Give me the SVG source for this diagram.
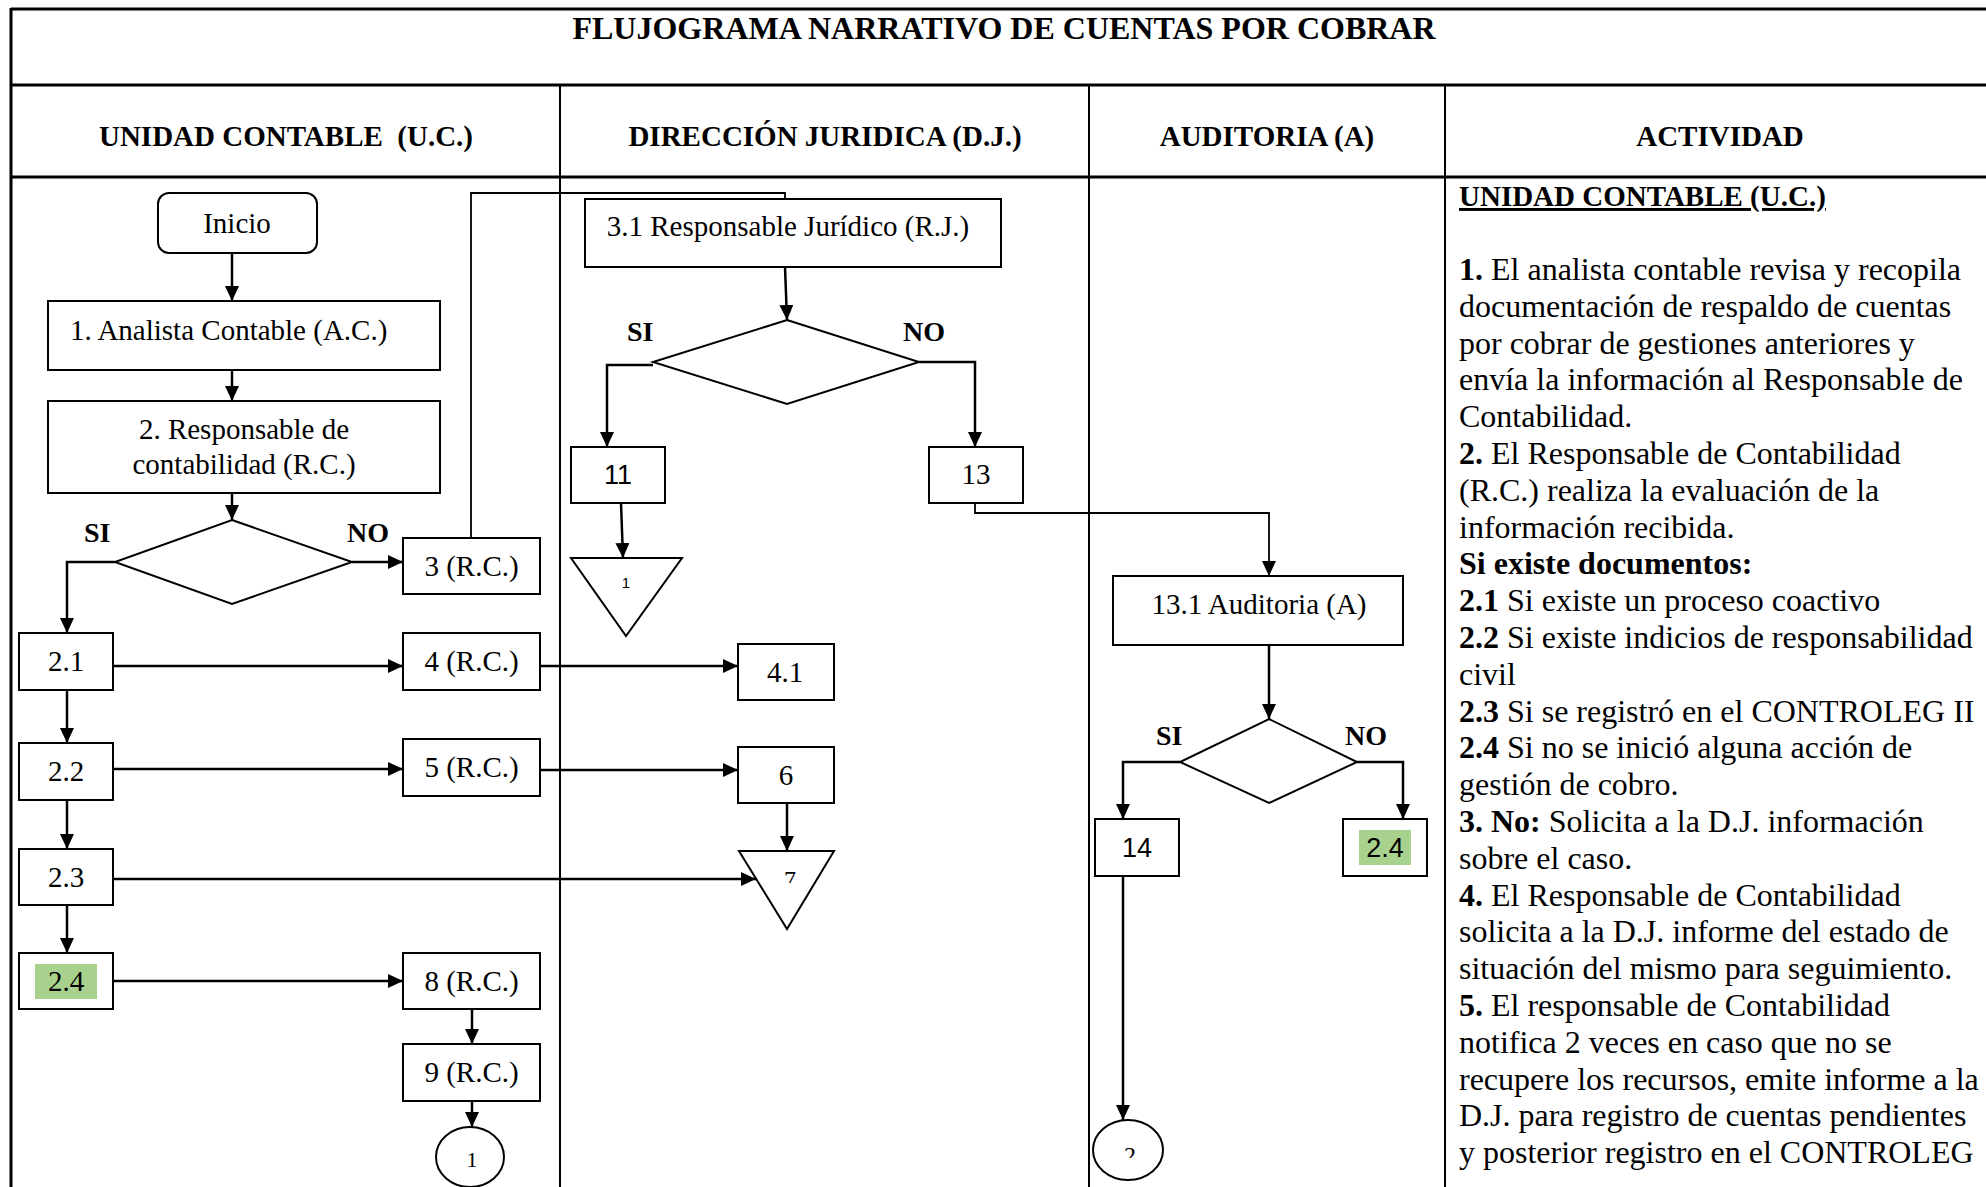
<svg xmlns="http://www.w3.org/2000/svg" width="1986" height="1187" viewBox="0 0 1986 1187">
<style>
.t{font-family:"Liberation Serif","Times New Roman",serif;fill:#000}
.s{font-family:"Liberation Sans",Arial,sans-serif;fill:#000}
.b{font-weight:bold}
.nd{fill:#fff;stroke:#000;stroke-width:2}
.grid{stroke:#000;fill:none}
.cn{fill:none;stroke:#000;stroke-width:2.5}
.th{fill:none;stroke:#000;stroke-width:1.8}
.hl{fill:#A9D18E}
</style>
<defs>
<marker id="arr" markerUnits="userSpaceOnUse" markerWidth="16" markerHeight="14" refX="15" refY="7" orient="auto">
<path d="M0,0 L15,7 L0,14 z" fill="#000"/>
</marker>
<clipPath id="clip7"><rect x="739" y="850" width="95" height="33"/></clipPath>
<clipPath id="clip2"><rect x="1093" y="1120" width="70" height="38"/></clipPath>
</defs>
<rect width="1986" height="1187" fill="#fff"/>

<g id="table">
<line class="grid" x1="11" y1="9" x2="1986" y2="9" stroke-width="3"/>
<line class="grid" x1="11" y1="85" x2="1986" y2="85" stroke-width="3"/>
<line class="grid" x1="11" y1="177" x2="1986" y2="177" stroke-width="3"/>
<line class="grid" x1="11" y1="8" x2="11" y2="1187" stroke-width="3"/>
<line class="grid" x1="560" y1="85" x2="560" y2="1187" stroke-width="2"/>
<line class="grid" x1="1089" y1="85" x2="1089" y2="1187" stroke-width="2"/>
<line class="grid" x1="1445" y1="85" x2="1445" y2="1187" stroke-width="2"/>
<text class="t b" x="1004" y="39" font-size="32" text-anchor="middle">FLUJOGRAMA NARRATIVO DE CUENTAS POR COBRAR</text>
<text class="t b" x="286" y="146" font-size="29" text-anchor="middle" xml:space="preserve">UNIDAD CONTABLE  (U.C.)</text>
<text class="t b" x="825" y="146" font-size="29" text-anchor="middle">DIRECCIÓN JURIDICA (D.J.)</text>
<text class="t b" x="1267" y="146" font-size="29" text-anchor="middle">AUDITORIA (A)</text>
<text class="t b" x="1720" y="146" font-size="29" text-anchor="middle">ACTIVIDAD</text>
</g>

<g id="connectors">
<path class="cn" d="M232,253 V301" marker-end="url(#arr)"/>
<path class="cn" d="M232,370 V401" marker-end="url(#arr)"/>
<path class="cn" d="M232,493 V520" marker-end="url(#arr)"/>
<path class="cn" d="M115,562 H67 V633" marker-end="url(#arr)"/>
<path class="cn" d="M352,562 H403" marker-end="url(#arr)"/>
<path class="th" d="M471,538 V193 H785 V199"/>
<path class="cn" d="M67,690 V743" marker-end="url(#arr)"/>
<path class="cn" d="M67,800 V849" marker-end="url(#arr)"/>
<path class="cn" d="M67,905 V953" marker-end="url(#arr)"/>
<path class="cn" d="M113,666 H403" marker-end="url(#arr)"/>
<path class="cn" d="M113,769 H403" marker-end="url(#arr)"/>
<path class="cn" d="M113,981 H403" marker-end="url(#arr)"/>
<path class="cn" d="M472,1009 V1044" marker-end="url(#arr)"/>
<path class="cn" d="M472,1101 V1127" marker-end="url(#arr)"/>
<path class="cn" d="M540,666 H738" marker-end="url(#arr)"/>
<path class="cn" d="M540,770 H738" marker-end="url(#arr)"/>
<path class="cn" d="M113,879 H756" marker-end="url(#arr)"/>
<path class="cn" d="M787,803 V851" marker-end="url(#arr)"/>
<path class="cn" d="M785,267 L787,320" marker-end="url(#arr)"/>
<path class="cn" d="M653,365 H607 V447" marker-end="url(#arr)"/>
<path class="cn" d="M919,362 H975 V447" marker-end="url(#arr)"/>
<path class="cn" d="M621,503 L623,558" marker-end="url(#arr)"/>
<path class="th" d="M975,503 V513 H1269 V576" marker-end="url(#arr)"/>
<path class="cn" d="M1269,645 V719" marker-end="url(#arr)"/>
<path class="cn" d="M1180,762 H1123 V819" marker-end="url(#arr)"/>
<path class="cn" d="M1357,762 H1403 V819" marker-end="url(#arr)"/>
<path class="cn" d="M1123,876 V1120" marker-end="url(#arr)"/>
</g>

<g id="inicio">
<rect class="nd" x="158" y="193" width="159" height="60" rx="11"/>
<text class="t" x="237" y="233" font-size="29" text-anchor="middle">Inicio</text>
</g>
<g id="n1">
<rect class="nd" x="48" y="301" width="392" height="69"/>
<text class="t" x="70" y="340" font-size="29">1. Analista Contable (A.C.)</text>
</g>
<g id="n2">
<rect class="nd" x="48" y="401" width="392" height="92"/>
<text class="t" x="244" y="439" font-size="29" text-anchor="middle">2. Responsable de</text>
<text class="t" x="244" y="474" font-size="29" text-anchor="middle">contabilidad (R.C.)</text>
</g>
<g id="d1">
<polygon class="nd" points="232,520 352,562 232,604 115,562"/>
<text class="t b" x="84" y="542" font-size="28">SI</text>
<text class="t b" x="347" y="542" font-size="28">NO</text>
</g>
<g id="n3">
<rect class="nd" x="403" y="538" width="137" height="56"/>
<text class="t" x="471.5" y="576" font-size="29" text-anchor="middle">3 (R.C.)</text>
</g>
<g id="n2_1">
<rect class="nd" x="19" y="633" width="94" height="57"/>
<text class="t" x="66" y="671" font-size="29" text-anchor="middle">2.1</text>
</g>
<g id="n2_2">
<rect class="nd" x="19" y="743" width="94" height="57"/>
<text class="t" x="66" y="781" font-size="29" text-anchor="middle">2.2</text>
</g>
<g id="n2_3">
<rect class="nd" x="19" y="849" width="94" height="56"/>
<text class="t" x="66" y="887" font-size="29" text-anchor="middle">2.3</text>
</g>
<g id="n2_4">
<rect class="nd" x="19" y="953" width="94" height="56"/>
<rect class="hl" x="35" y="964" width="62" height="35"/>
<text class="t" x="66" y="991" font-size="29" text-anchor="middle">2.4</text>
</g>
<g id="n4">
<rect class="nd" x="403" y="633" width="137" height="57"/>
<text class="t" x="471.5" y="671" font-size="29" text-anchor="middle">4 (R.C.)</text>
</g>
<g id="n5">
<rect class="nd" x="403" y="739" width="137" height="57"/>
<text class="t" x="471.5" y="777" font-size="29" text-anchor="middle">5 (R.C.)</text>
</g>
<g id="n8">
<rect class="nd" x="403" y="953" width="137" height="56"/>
<text class="t" x="471.5" y="991" font-size="29" text-anchor="middle">8 (R.C.)</text>
</g>
<g id="n9">
<rect class="nd" x="403" y="1044" width="137" height="57"/>
<text class="t" x="471.5" y="1082" font-size="29" text-anchor="middle">9 (R.C.)</text>
</g>
<g id="c1">
<ellipse class="nd" cx="470" cy="1157" rx="34" ry="30"/>
<text class="t" x="472" y="1167" font-size="22" text-anchor="middle">1</text>
</g>

<g id="n3_1">
<rect class="nd" x="585" y="199" width="416" height="68"/>
<text class="t" x="788" y="236" font-size="29" text-anchor="middle">3.1 Responsable Jurídico (R.J.)</text>
</g>
<g id="d2">
<polygon class="nd" points="787,320 919,362 787,404 653,362"/>
<text class="t b" x="627" y="341" font-size="28">SI</text>
<text class="t b" x="903" y="341" font-size="28">NO</text>
</g>
<g id="n11">
<rect class="nd" x="571" y="447" width="94" height="56"/>
<text class="s" x="618" y="484" font-size="27" text-anchor="middle">11</text>
</g>
<g id="n13">
<rect class="nd" x="929" y="447" width="94" height="56"/>
<text class="t" x="976" y="484" font-size="29" text-anchor="middle">13</text>
</g>
<g id="t1">
<polygon class="nd" points="571,558 682,558 626,636"/>
<text class="s" x="626" y="588" font-size="15" text-anchor="middle">1</text>
</g>
<g id="n4_1">
<rect class="nd" x="738" y="644" width="96" height="56"/>
<text class="t" x="785" y="682" font-size="29" text-anchor="middle">4.1</text>
</g>
<g id="n6">
<rect class="nd" x="738" y="747" width="96" height="56"/>
<text class="t" x="786" y="785" font-size="29" text-anchor="middle">6</text>
</g>
<g id="t7">
<polygon class="nd" points="739,851 834,851 787,929"/>
<text class="t" x="790" y="887" font-size="24" text-anchor="middle" clip-path="url(#clip7)">7</text>
</g>

<g id="n13_1">
<rect class="nd" x="1113" y="576" width="290" height="69"/>
<text class="t" x="1259" y="614" font-size="29" text-anchor="middle">13.1 Auditoria (A)</text>
</g>
<g id="d3">
<polygon class="nd" points="1269,719 1357,762 1269,803 1180,762"/>
<text class="t b" x="1156" y="745" font-size="28">SI</text>
<text class="t b" x="1345" y="745" font-size="28">NO</text>
</g>
<g id="n14">
<rect class="nd" x="1095" y="819" width="84" height="57"/>
<text class="s" x="1137" y="857" font-size="27" text-anchor="middle">14</text>
</g>
<g id="n2_4b">
<rect class="nd" x="1343" y="819" width="84" height="57"/>
<rect class="hl" x="1359" y="830" width="52" height="35"/>
<text class="s" x="1385" y="857" font-size="27" text-anchor="middle">2.4</text>
</g>
<g id="c2">
<ellipse class="nd" cx="1128" cy="1150" rx="35" ry="30"/>
<text class="t" x="1130" y="1163" font-size="24" text-anchor="middle" clip-path="url(#clip2)">2</text>
</g>

<g id="actividad">
<text class="t b" x="1459" y="206" font-size="29" text-decoration="underline">UNIDAD CONTABLE (U.C.)</text>
<g class="t" font-size="32">
<text x="1459" y="280"><tspan class="b">1.</tspan> El analista contable revisa y recopila</text>
<text x="1459" y="316.8">documentación de respaldo de cuentas</text>
<text x="1459" y="353.6">por cobrar de gestiones anteriores y</text>
<text x="1459" y="390.4">envía la información al Responsable de</text>
<text x="1459" y="427.2">Contabilidad.</text>
<text x="1459" y="464"><tspan class="b">2.</tspan> El Responsable de Contabilidad</text>
<text x="1459" y="500.8">(R.C.) realiza la evaluación de la</text>
<text x="1459" y="537.6">información recibida.</text>
<text x="1459" y="574.4" class="b">Si existe documentos:</text>
<text x="1459" y="611.2"><tspan class="b">2.1</tspan> Si existe un proceso coactivo</text>
<text x="1459" y="648"><tspan class="b">2.2</tspan> Si existe indicios de responsabilidad</text>
<text x="1459" y="684.8">civil</text>
<text x="1459" y="721.6"><tspan class="b">2.3</tspan> Si se registró en el CONTROLEG II</text>
<text x="1459" y="758.4"><tspan class="b">2.4</tspan> Si no se inició alguna acción de</text>
<text x="1459" y="795.2">gestión de cobro.</text>
<text x="1459" y="832"><tspan class="b">3. No:</tspan> Solicita a la D.J. información</text>
<text x="1459" y="868.8">sobre el caso.</text>
<text x="1459" y="905.6"><tspan class="b">4.</tspan> El Responsable de Contabilidad</text>
<text x="1459" y="942.4">solicita a la D.J. informe del estado de</text>
<text x="1459" y="979.2">situación del mismo para seguimiento.</text>
<text x="1459" y="1016"><tspan class="b">5.</tspan> El responsable de Contabilidad</text>
<text x="1459" y="1052.8">notifica 2 veces en caso que no se</text>
<text x="1459" y="1089.6">recupere los recursos, emite informe a la</text>
<text x="1459" y="1126.4">D.J. para registro de cuentas pendientes</text>
<text x="1459" y="1163.2">y posterior registro en el CONTROLEG</text>
</g>
</g>
</svg>
